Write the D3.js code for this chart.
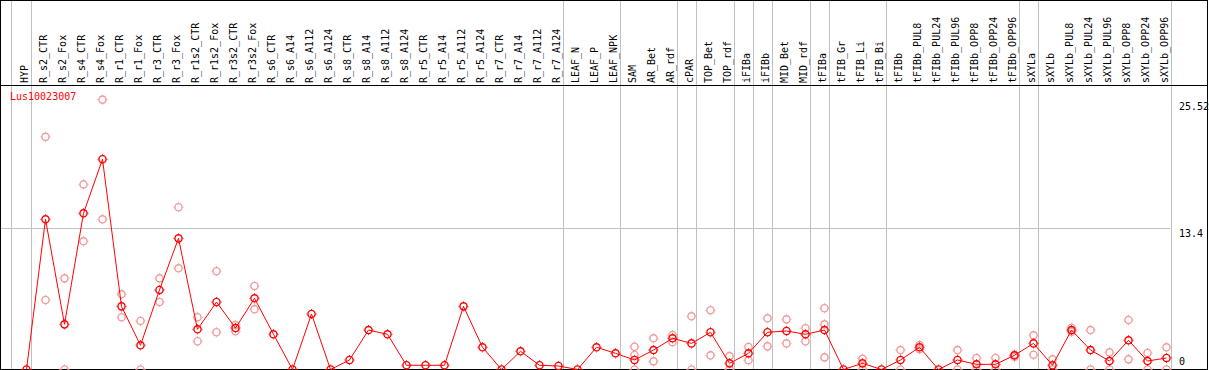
<!DOCTYPE html>
<html>
<head>
<meta charset="utf-8">
<title>Lus10023007</title>
<script src="https://d3js.org/d3.v7.min.js"></script>
<style>
  body { margin: 0; background: #fff; }
  text { font-family: "DejaVu Sans Mono", monospace; font-size: 10px; }
</style>
</head>
<body>
<script>
// data
const geneName = "Lus10023007";
const categories = ["HYP","R_s2_CTR","R_s2_Fox","R_s4_CTR","R_s4_Fox","R_r1_CTR","R_r1_Fox","R_r3_CTR","R_r3_Fox",
  "R_r1s2_CTR","R_r1s2_Fox","R_r3s2_CTR","R_r3s2_Fox","R_s6_CTR","R_s6_A14","R_s6_A112","R_s6_A124",
  "R_s8_CTR","R_s8_A14","R_s8_A112","R_s8_A124","R_r5_CTR","R_r5_A14","R_r5_A112","R_r5_A124",
  "R_r7_CTR","R_r7_A14","R_r7_A112","R_r7_A124","LEAF_N","LEAF_P","LEAF_NPK","SAM","AR_Bet","AR_rdf",
  "cPAR","TOP_Bet","TOP_rdf","iFIBa","iFIBb","MID_Bet","MID_rdf","tFIBa","tFIB_Gr","tFIB_Li","tFIB_Bi",
  "tFIBb","tFIBb_PUL8","tFIBb_PUL24","tFIBb_PUL96","tFIBb_OPP8","tFIBb_OPP24","tFIBb_OPP96",
  "sXYLa","sXYLb","sXYLb_PUL8","sXYLb_PUL24","sXYLb_PUL96","sXYLb_OPP8","sXYLb_OPP24","sXYLb_OPP96"];
const means = [0,14.2,4.27,14.77,19.88,5.97,2.29,7.52,12.4,3.8,6.38,3.92,6.73,3.33,0,5.25,0,
  0.9,3.73,3.33,0.4,0.4,0.4,5.97,2.1,0,1.72,0.4,0.33,0,2.1,1.53,0.9,1.84,2.95,
  2.47,3.52,0.58,1.53,3.52,3.64,3.33,3.73,0,0.58,0,
  0.9,2.1,0,0.9,0.49,0.49,1.34,2.47,0.4,3.73,1.84,0.8,2.76,0.8,1.09];
const replicates = [[],[22.0,6.57],[8.62,0],[17.5,12.12],[25.52,14.2],[7.11,4.94],[4.59,0],[8.62,6.38],[15.34,9.57],
  [4.94,2.67],[9.29,3.52],[4.2,3.61],[7.9,5.69],[],[],[],[],
  [],[],[],[],[],[],[],[],[],[],[],[],[],[],[],[2.15,1.37,0],[2.95,0.77],[3.26,2.57],
  [5.03,0],[5.6,1.34],[1.27,0],[2.13,0.87],[4.84,2.19],[4.74,2.47],[3.9,2.67],[5.79,4.27,1.15],[],[1.02,0],[],
  [1.84,0],[2.32,1.91],[],[1.84,0],[1.09,0],[1.09,0],[1.4,1.2],[3.23,1.4],[0.96,0],[3.95,3.58],[3.73,0],[1.62,0],[4.68,0.96],[1.56,0],[2.1,0]];
// categories that close a group (grey separator after them)
const groupEnds = ["HYP","R_r7_A124","LEAF_NPK","AR_rdf","cPAR","TOP_rdf","iFIBa","iFIBb","MID_rdf","tFIBa",
  "tFIB_Bi","tFIBb_OPP96","sXYLa","sXYLb_OPP96"];
const yTicks = [0, 13.4, 25.52];

let W = 1209, H = 370;
const svg = d3.select("body").append("svg").attr("width", W).attr("height", H);

const x = d3.scalePoint().domain(categories).range([26.5, 1166.5]);
const y = d3.scaleLinear().domain([0, 25.52]).range([369.5, 99.6]);

// grey grid
svg.append("line").attr("x1", 0).attr("x2", 1170).attr("y1", Math.round(y(13.4)) + 0.5).attr("y2", Math.round(y(13.4)) + 0.5)
  .attr("stroke", "#c0c0c0");
let seps = [x("HYP") - 16].concat(groupEnds.map(c => x(c) + 4));
svg.selectAll(".sep").data(seps).enter().append("line")
  .attr("x1", d => Math.round(d) + 0.5).attr("x2", d => Math.round(d) + 0.5)
  .attr("y1", 0).attr("y2", H).attr("stroke", "#c0c0c0");

// frame
svg.append("line").attr("x1", 0).attr("x2", 1208).attr("y1", 0.5).attr("y2", 0.5).attr("stroke", "#000");
svg.append("line").attr("x1", 0).attr("x2", 1208).attr("y1", 85.5).attr("y2", 85.5).attr("stroke", "#000");
svg.append("line").attr("x1", 0).attr("x2", 1208).attr("y1", 369.5).attr("y2", 369.5).attr("stroke", "#000");
svg.append("line").attr("x1", 0.5).attr("x2", 0.5).attr("y1", 0).attr("y2", H).attr("stroke", "#000");
svg.append("line").attr("x1", 1207.5).attr("x2", 1207.5).attr("y1", 0).attr("y2", H).attr("stroke", "#000");

// rotated column labels
svg.selectAll(".lab").data(categories).enter().append("text")
  .attr("transform", d => "translate(" + (x(d) + 1) + ",83) rotate(-90)")
  .attr("fill", "#000")
  .text(d => d);

// right value labels
svg.selectAll(".yl").data(yTicks).enter().append("text")
  .attr("x", 1179)
  .attr("y", d => d === 0 ? 365 : (d === 13.4 ? 236.5 : 110))
  .attr("fill", "#000")
  .text(d => d);

svg.append("text").attr("x", 10).attr("y", 100).attr("fill", "#ff0000").text(geneName);

// marker: circle with tiny ticks
function marker(g, color) {
  g.append("circle").attr("r", 3.6).attr("fill", "none").attr("stroke", color).attr("stroke-width", 1.4);
  g.append("path").attr("d", "M0,-5V-4.2M0,4.2V5M-5,0H-4.2M4.2,0H5")
    .attr("stroke", color).attr("stroke-width", 1);
}

// replicate points
let reps = [];
replicates.forEach((r, i) => r.forEach(v => reps.push([categories[i], v])));
svg.selectAll(".rep").data(reps).enter().append("g")
  .attr("transform", d => "translate(" + x(d[0]) + "," + y(d[1]) + ")")
  .each(function () { marker(d3.select(this), "#f29a9a"); });

// mean line
const line = d3.line().x((d, i) => x(categories[i])).y(d => y(d));
svg.append("path").attr("d", line(means)).attr("fill", "none").attr("stroke", "#ff0000").attr("stroke-width", 1);

svg.selectAll(".pt").data(means).enter().append("g")
  .attr("transform", (d, i) => "translate(" + x(categories[i]) + "," + y(d) + ")")
  .each(function () { marker(d3.select(this), "#ff0000"); });
</script>
</body>
</html>
